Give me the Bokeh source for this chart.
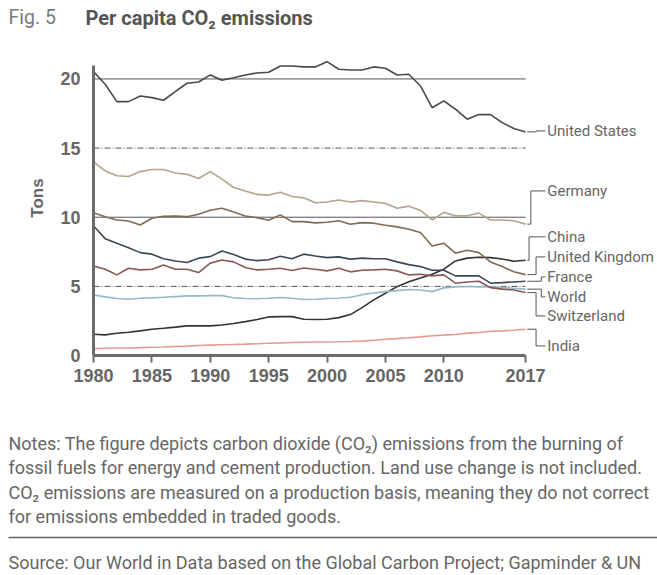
from bokeh.plotting import figure
from bokeh.models import Range1d, FixedTicker
from bokeh.layouts import column
from bokeh.embed import file_html
from bokeh.resources import INLINE
from bokeh.core.properties import value

# ---------------- data ----------------
years = list(range(1980, 2018))

united_states = [20.53, 19.62, 18.36, 18.36, 18.77, 18.65, 18.46, 19.08, 19.69, 19.78,
                 20.29, 19.91, 20.09, 20.29, 20.43, 20.48, 20.94, 20.94, 20.87, 20.87,
                 21.25, 20.70, 20.65, 20.65, 20.87, 20.77, 20.29, 20.34, 19.49, 17.92,
                 18.41, 17.81, 17.09, 17.42, 17.42, 16.84, 16.41, 16.17]
germany = [14.00, 13.35, 13.00, 12.95, 13.30, 13.45, 13.45, 13.20, 13.10, 12.80,
           13.30, 12.75, 12.15, 11.90, 11.65, 11.60, 11.80, 11.50, 11.40, 11.05,
           11.10, 11.25, 11.10, 11.20, 11.10, 11.00, 10.65, 10.80, 10.50, 9.80,
           10.35, 10.10, 10.10, 10.30, 9.80, 9.80, 9.75, 9.50]
united_kingdom = [10.33, 10.04, 9.80, 9.73, 9.44, 9.93, 10.07, 10.09, 10.04, 10.22,
                  10.51, 10.65, 10.38, 10.09, 9.97, 9.78, 10.17, 9.68, 9.68, 9.59,
                  9.64, 9.74, 9.49, 9.61, 9.57, 9.42, 9.30, 9.13, 8.89, 7.92,
                  8.12, 7.40, 7.61, 7.44, 6.77, 6.43, 6.05, 5.85]
france = [9.37, 8.45, 8.12, 7.80, 7.44, 7.33, 7.00, 6.84, 6.72, 7.04,
          7.15, 7.56, 7.30, 6.97, 6.86, 6.93, 7.18, 7.00, 7.33, 7.20,
          7.08, 7.13, 6.97, 7.04, 7.00, 7.00, 6.77, 6.57, 6.43, 6.17,
          6.17, 5.76, 5.76, 5.76, 5.23, 5.27, 5.32, 5.37]
switzerland = [6.48, 6.24, 5.83, 6.31, 6.19, 6.24, 6.55, 6.24, 6.24, 6.00,
               6.68, 6.91, 6.77, 6.36, 6.19, 6.24, 6.31, 6.15, 6.33, 6.24,
               6.12, 6.31, 6.05, 6.17, 6.19, 6.24, 6.12, 5.83, 5.88, 5.76,
               5.83, 5.23, 5.32, 5.37, 4.91, 4.80, 4.74, 4.55]
world = [4.38, 4.24, 4.12, 4.07, 4.14, 4.17, 4.21, 4.26, 4.31, 4.31,
         4.33, 4.33, 4.17, 4.12, 4.10, 4.14, 4.19, 4.14, 4.05, 4.07,
         4.12, 4.14, 4.21, 4.40, 4.52, 4.62, 4.69, 4.77, 4.74, 4.62,
         4.89, 4.96, 4.99, 4.96, 4.96, 4.91, 4.86, 4.80]
china = [1.54, 1.49, 1.61, 1.68, 1.78, 1.90, 1.97, 2.05, 2.14, 2.14,
         2.14, 2.21, 2.31, 2.45, 2.60, 2.79, 2.81, 2.81, 2.62, 2.60,
         2.62, 2.74, 2.96, 3.46, 4.02, 4.50, 4.98, 5.34, 5.61, 5.88,
         6.24, 6.84, 7.04, 7.11, 7.08, 6.98, 6.82, 6.89]
india = [0.50, 0.52, 0.54, 0.55, 0.57, 0.60, 0.62, 0.65, 0.68, 0.72,
         0.75, 0.78, 0.80, 0.82, 0.85, 0.89, 0.91, 0.94, 0.96, 0.98,
         0.98, 0.99, 1.01, 1.04, 1.10, 1.18, 1.22, 1.28, 1.35, 1.43,
         1.47, 1.52, 1.62, 1.66, 1.75, 1.78, 1.83, 1.90]

series_names = ["United States", "Germany", "China", "United Kingdom",
                "France", "World", "Switzerland", "India"]
series_values = [united_states, germany, china, united_kingdom,
                 france, world, switzerland, india]
series_colors = ["#4a4a4a", "#b2a58d", "#333333", "#7e6b52",
                 "#3d4853", "#95b9ca", "#8a5757", "#e39b90"]
label_y = [16.24, 11.90, 8.58, 7.13, 5.68, 4.24, 2.86, 0.69]
elbow_x = [2017.9, 2017.45, 2017.3, 2017.9, 2018.35, 2018.35, 2017.9, 2017.9]

x_ticks = [1980, 1985, 1990, 1995, 2000, 2005, 2010, 2017]
y_ticks = [0, 5, 10, 15, 20]
solid_grid = [10, 20]
dashed_grid = [5, 15]

title_fig = "Fig. 5"
title_main = "Per capita CO\u2082 emissions"
notes = [
    "Notes: The figure depicts carbon dioxide (CO\u2082) emissions from the burning of",
    "fossil fuels for energy and cement production. Land use change is not included.",
    "CO\u2082 emissions are measured on a production basis, meaning they do not correct",
    "for emissions embedded in traded goods.",
]
source = "Source: Our World in Data based on the Global Carbon Project; Gapminder & UN"

FONT = "Roboto"
NUMFONT = "Liberation Sans"
GRAY = "#666666"
W = 657


def text_panel(height):
    f = figure(width=W, height=height, x_range=Range1d(0, W), y_range=Range1d(height, 0),
               toolbar_location=None, output_backend="svg", x_axis_type=None,
               y_axis_type=None, min_border=0, frame_align=False)
    f.grid.visible = False
    f.outline_line_color = None
    return f


# ---------------- title ----------------
TH = 40
pt = text_panel(TH)
pt.text(x=[8], y=[17], text=[title_fig], text_font=value(FONT),
        text_font_size="19.5px", text_color="#7a7a7a", text_baseline="middle")
pt.text(x=[85], y=[17], text=[title_main], text_font=value(FONT),
        text_font_size="20px", text_font_style="bold", text_color="#555555",
        text_baseline="middle")

# ---------------- chart ----------------
CH, BL, BB = 360, 93, 45
X0, X1 = 1980, 2028.30
Y0, Y1 = 0, 22.78
p = figure(width=W, height=CH, x_range=Range1d(X0, X1), y_range=Range1d(Y0, Y1),
           toolbar_location=None, output_backend="svg", frame_align=False,
           min_border_left=BL, min_border_right=0, min_border_top=0, min_border_bottom=BB)
p.grid.visible = False
p.outline_line_color = None

for gv in solid_grid:
    p.segment(x0=[years[0]], x1=[years[-1]], y0=[gv], y1=[gv], line_color="#555555",
              line_width=1)
for gv in dashed_grid:
    p.segment(x0=[years[0]], x1=[years[-1]], y0=[gv], y1=[gv], line_color="#555555",
              line_width=1, line_dash="6 2 1 2")

for vals, col in zip(series_values, series_colors):
    p.line(years, vals, line_color=col, line_width=1.6)

x_end = years[-1]
xs, ys = [], []
for vals, ly, ex in zip(series_values, label_y, elbow_x):
    xs.append([x_end + 0.15, ex, ex, 2018.7])
    ys.append([vals[-1], vals[-1], ly, ly])
p.multi_line(xs, ys, line_color="#555555", line_width=1)
p.text(x=[2018.86] * len(series_names), y=label_y, text=series_names,
       text_font=value(FONT), text_font_size="15px", text_color=GRAY,
       text_baseline="middle", text_align="left")

xa = p.xaxis[0]
xa.ticker = FixedTicker(ticks=x_ticks)
xa.bounds = (x_ticks[0], x_ticks[-1])
xa.axis_line_width = 3
xa.axis_line_color = "#6b6b6b"
xa.major_tick_line_color = "#6b6b6b"
xa.major_tick_line_width = 2
xa.major_tick_out = 7
xa.major_tick_in = 0
xa.minor_tick_line_color = None
xa.major_label_text_font = NUMFONT
xa.major_label_text_font_size = "18px"
xa.major_label_text_font_style = "bold"
xa.major_label_text_color = GRAY
xa.major_label_standoff = 6

ya = p.yaxis[0]
ya.ticker = FixedTicker(ticks=y_ticks)
ya.bounds = (0, 21)
ya.axis_line_width = 3
ya.axis_line_color = "#6b6b6b"
ya.major_tick_line_color = None
ya.minor_tick_line_color = None
ya.major_tick_out = 0
ya.major_tick_in = 0
ya.major_label_text_font = NUMFONT
ya.major_label_text_font_size = "18px"
ya.major_label_text_font_style = "bold"
ya.major_label_text_color = GRAY
ya.major_label_standoff = 13
ya.axis_label = "Tons"
ya.axis_label_text_font = NUMFONT
ya.axis_label_text_font_size = "17px"
ya.axis_label_text_font_style = "bold"
ya.axis_label_text_color = GRAY
ya.axis_label_standoff = 10

# ---------------- notes ----------------
NH = 175
pn = text_panel(NH)
pn.text(x=[8] * len(notes), y=[43, 67, 92, 116], text=notes, text_font=value(FONT),
        text_font_size="18px", text_color=GRAY, text_baseline="middle")
pn.segment(x0=[8], x1=[W], y0=[137], y1=[137], line_color="#666666", line_width=1.5)
pn.text(x=[8], y=[162], text=[source], text_font=value(FONT),
        text_font_size="18px", text_color=GRAY, text_baseline="middle")

layout = column(pt, p, pn, spacing=0)
open("out.html", "w").write(file_html(layout, INLINE))
